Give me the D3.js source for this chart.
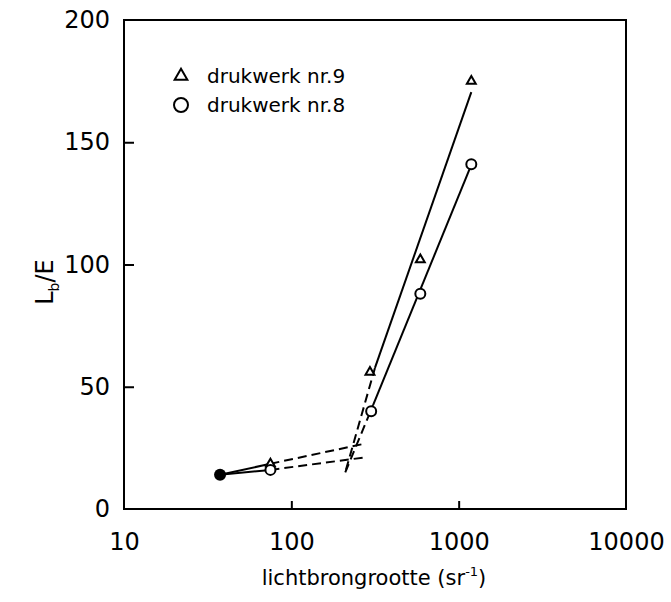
<!DOCTYPE html>
<html>
<head>
<meta charset="utf-8">
<script src="https://cdn.jsdelivr.net/npm/d3@7"></script>
<style>
  body { margin: 0; background: #fff; }
  text { font-family: "DejaVu Sans", sans-serif; fill: #000; }
</style>
</head>
<body>
<div id="chart"></div>
<script>
// measured points (x = lichtbrongrootte, y = Lb/E)
const nr9X = [75, 295, 590, 1190];
const nr9Y = [18.5, 56, 102, 175];
const nr8X = [75, 300, 590, 1190];
const nr8Y = [16, 40, 88, 141];
const startX = [37.5];
const startY = [14];

// fitted lines: [x0, y0, x1, y1]
const nr9Solid = [[37.5, 14, 75, 18.5], [316, 57.7, 1190, 170.5]];
const nr9Dashed = [[75, 18.5, 265, 26.5], [212, 16, 316, 57.7]];
const nr8Solid = [[37.5, 14, 75, 16], [308, 42.5, 1170, 139.5]];
const nr8Dashed = [[75, 16, 268, 21], [210, 15, 308, 42.5]];

const xTicks = [10, 100, 1000, 10000];
const yTicks = [0, 50, 100, 150, 200];
const legendLabels = ["drukwerk nr.9", "drukwerk nr.8"];

const width = 671, height = 602;
const margin = {top: 20, right: 45, bottom: 93, left: 124};

const svg = d3.select("#chart").append("svg")
    .attr("width", width)
    .attr("height", height);

const x = d3.scaleLog()
    .domain([10, 10000])
    .range([margin.left, width - margin.right]);

const y = d3.scaleLinear()
    .domain([0, 200])
    .range([height - margin.bottom, margin.top]);

// frame
svg.append("rect")
    .attr("x", x(10))
    .attr("y", y(200))
    .attr("width", x(10000) - x(10))
    .attr("height", y(0) - y(200))
    .attr("fill", "none")
    .attr("stroke", "#000")
    .attr("stroke-width", 2);

// axes with inward ticks
const yAxis = svg.append("g")
    .attr("transform", "translate(" + x(10) + ",0)")
    .call(d3.axisLeft(y).tickValues(yTicks).tickSize(-10).tickPadding(14));
yAxis.select(".domain").remove();
yAxis.selectAll("line").attr("stroke-width", 2)
    .filter(d => d === 0 || d === 200).remove();
yAxis.selectAll("text").style("font-size", "24px");

const xAxis = svg.append("g")
    .attr("transform", "translate(0," + y(0) + ")")
    .call(d3.axisBottom(x).tickValues(xTicks).tickFormat(d3.format("d")).tickSize(-8).tickPadding(24));
xAxis.select(".domain").remove();
xAxis.selectAll("line").attr("stroke-width", 2)
    .filter(d => d === 10 || d === 10000).remove();
xAxis.selectAll("text").style("font-size", "24px");

// axis titles
const yTitle = svg.append("text")
    .attr("transform", "translate(53,282) rotate(-90)")
    .attr("text-anchor", "middle")
    .style("font-size", "24px");
yTitle.append("tspan").text("L");
yTitle.append("tspan").attr("dy", 6).style("font-size", "14px").text("b");
yTitle.append("tspan").attr("dy", -6).text("/E");

const xTitle = svg.append("text")
    .attr("x", 374)
    .attr("y", 585)
    .attr("text-anchor", "middle")
    .style("font-size", "21px");
xTitle.append("tspan").text("lichtbrongrootte (sr");
xTitle.append("tspan").attr("dy", -9).style("font-size", "13px").text("-1");
xTitle.append("tspan").attr("dy", 9).text(")");

// lines
function drawSegments(segs, dash) {
    svg.append("g").selectAll("line")
        .data(segs)
        .enter()
        .append("line")
        .attr("x1", d => x(d[0]))
        .attr("y1", d => y(d[1]))
        .attr("x2", d => x(d[2]))
        .attr("y2", d => y(d[3]))
        .attr("stroke", "#000")
        .attr("stroke-width", 2)
        .attr("stroke-dasharray", dash);
}
drawSegments(nr9Solid, null);
drawSegments(nr8Solid, null);
drawSegments(nr9Dashed, "9,5");
drawSegments(nr8Dashed, "9,5");

// markers
const tri = d3.symbol().type(d3.symbolTriangle).size(34);
svg.append("g").selectAll("path")
    .data(nr9X)
    .enter()
    .append("path")
    .attr("d", tri)
    .attr("transform", (d, i) => "translate(" + x(d) + "," + y(nr9Y[i]) + ")")
    .attr("fill", "#fff")
    .attr("stroke", "#000")
    .attr("stroke-width", 2);

svg.append("g").selectAll("circle")
    .data(nr8X)
    .enter()
    .append("circle")
    .attr("cx", d => x(d))
    .attr("cy", (d, i) => y(nr8Y[i]))
    .attr("r", 5)
    .attr("fill", "#fff")
    .attr("stroke", "#000")
    .attr("stroke-width", 2);

svg.append("g").selectAll("circle")
    .data(startX)
    .enter()
    .append("circle")
    .attr("cx", d => x(d))
    .attr("cy", (d, i) => y(startY[i]))
    .attr("r", 6)
    .attr("fill", "#000");

// legend
const legend = svg.append("g");
legend.append("path")
    .attr("d", d3.symbol().type(d3.symbolTriangle).size(70))
    .attr("transform", "translate(181,76)")
    .attr("fill", "none")
    .attr("stroke", "#000")
    .attr("stroke-width", 2);
legend.append("circle")
    .attr("cx", 181)
    .attr("cy", 105)
    .attr("r", 7)
    .attr("fill", "none")
    .attr("stroke", "#000")
    .attr("stroke-width", 2);
legend.selectAll("text")
    .data(legendLabels)
    .enter()
    .append("text")
    .attr("x", 207)
    .attr("y", (d, i) => 83 + i * 29)
    .style("font-size", "20px")
    .text(d => d);
</script>
</body>
</html>
